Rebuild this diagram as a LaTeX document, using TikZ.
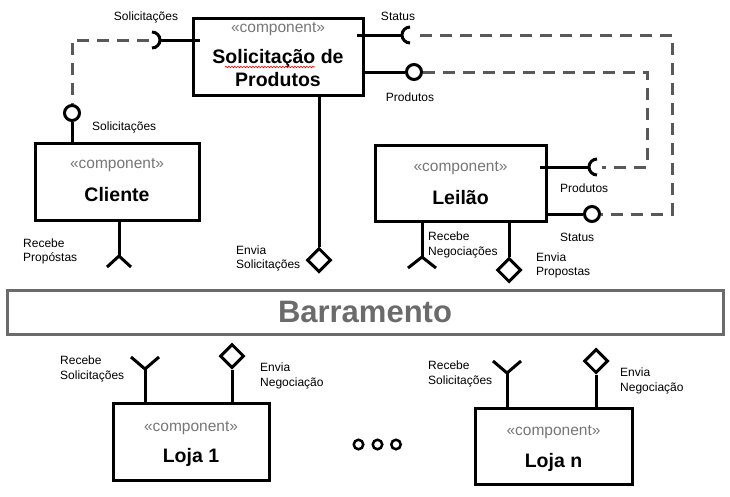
\documentclass[tikz,border=0pt]{standalone}
\usepackage{fontspec}
\setmainfont{Liberation Sans}
\usetikzlibrary{shapes.geometric,decorations.pathmorphing}
\definecolor{linkgray}{HTML}{595959}
\definecolor{busgray}{HTML}{6B6B6B}
\definecolor{stereogray}{HTML}{767676}
\begin{document}
\begin{tikzpicture}[x=1pt,y=-1pt,
  comp/.style={draw, line width=3pt, rectangle, inner sep=0pt},
  wire/.style={line width=3pt},
  link/.style={line width=3pt, draw=linkgray, dash pattern=on 12pt off 8pt},
  ball/.style={circle, draw, line width=3pt, minimum size=15pt, inner sep=0pt, fill=white},
  port/.style={diamond, draw, line width=3pt, minimum width=24pt, minimum height=24pt, inner sep=0pt, aspect=1, fill=white},
  dot/.style={circle, draw, line width=2.5pt, minimum size=9.5pt, inner sep=0pt},
  lbl/.style={font=\fontsize{12}{14.5}\selectfont, align=left, inner sep=0pt},
  stereo/.style={font=\fontsize{15.5}{18}\selectfont, text=stereogray, inner sep=0pt},
  title/.style={font=\fontsize{19.5}{23}\selectfont\bfseries, inner sep=0pt, align=center},
]
\useasboundingbox (0,0) rectangle (730,496);

% ---- components ----
\node[comp, minimum width=170pt, minimum height=77pt] (sol) at (278,56.5) {};
\node[stereo] (solS) at (278,29) {«component»};
\node[title] (solT) at (278,68.5) {Solicitação de\\Produtos};
\draw[red, line width=0.6pt, decorate, decoration={snake, amplitude=0.8pt, segment length=3pt}] (225,67) -- (315,67);

\node[comp, minimum width=164pt, minimum height=77pt] (cli) at (117,181.5) {};
\node[stereo] (cliS) at (117,165) {«component»};
\node[title] (cliT) at (117,195) {Cliente};

\node[comp, minimum width=171pt, minimum height=76pt] (lei) at (460.5,183) {};
\node[stereo] (leiS) at (460.5,168) {«component»};
\node[title] (leiT) at (460.5,198) {Leilão};

\node[draw=busgray, line width=3pt, minimum width=716pt, minimum height=44pt, inner sep=0pt,
      text=busgray, font=\fontsize{31}{36}\selectfont\bfseries] (bus) at (365,312) {Barramento};

\node[comp, minimum width=156pt, minimum height=77pt] (l1) at (191,441.5) {};
\node[stereo] (l1S) at (191,428) {«component»};
\node[title] (l1T) at (191,457) {Loja 1};

\node[comp, minimum width=157pt, minimum height=76pt] (ln) at (553.5,446) {};
\node[stereo] (lnS) at (553.5,432) {«component»};
\node[title] (lnT) at (553.5,462) {Loja n};

\node[dot] (d1) at (358.5,444.5) {};
\node[dot] (d2) at (377.5,444.5) {};
\node[dot] (d3) at (396,444.5) {};

% ---- sockets (half circles, radius 8) ----
\coordinate (sqL) at (152,40);
\coordinate (sqS) at (410,35);
\coordinate (sqP) at (597,167);
\draw[wire] ([xshift=8pt]sqL) -- ([xshift=8pt]sqL -| sol.west);
\draw[wire] (sqL) ++(0,-8) arc[start angle=-90, end angle=90, radius=8];
\draw[wire] ([xshift=-8pt]sqS) -- ([xshift=-8pt]sqS -| sol.east);
\draw[wire] (sqS) ++(0,8) arc[start angle=90, end angle=270, radius=8];
\draw[wire] ([xshift=-8pt]sqP) -- ([xshift=-8pt]sqP -| lei.east);
\draw[wire] (sqP) ++(0,8) arc[start angle=90, end angle=270, radius=8];

% ---- balls ----
\node[ball] (bCli) at (72,113) {};
\node[ball] (bProd) at (414,72) {};
\node[ball] (bStat) at (592,214) {};
\draw[wire] (bCli) -- (bCli |- cli.north);
\draw[wire] (bProd) -- (bProd -| sol.east);
\draw[wire] (bStat) -- (bStat -| lei.east);

% ---- assembly links ----
\draw[link] ([xshift=-3pt]sqL) -| (bCli);
\draw[link] ([xshift=10pt]sqS) -| ([xshift=80pt]bStat.center) -- (bStat);
\draw[link] (bProd) -| ([xshift=50pt]sqP) -- ([xshift=5pt]sqP);

% ---- bus receptacles ----
\coordinate (rCli) at (119,256);
\draw[wire] (rCli |- cli.south) -- (rCli);
\draw[wire] (rCli) ++(-12,11) -- (rCli) -- ++(12,11);
\coordinate (rLei) at (422,257);
\draw[wire] (rLei |- lei.south) -- (rLei);
\draw[wire] (rLei) ++(-14,11) -- (rLei) -- ++(14,11);
\coordinate (rL1) at (145,369);
\draw[wire] (rL1 |- l1.north) -- (rL1);
\draw[wire] (rL1) ++(-14,-12) -- (rL1) -- ++(14,-12);
\coordinate (rLn) at (507,373);
\draw[wire] (rLn |- ln.north) -- (rLn);
\draw[wire] (rLn) ++(-14,-12) -- (rLn) -- ++(14,-12);

% ---- bus ports ----
\node[port] (dSol) at (319,260) {};
\node[port] (dLei) at (509,270) {};
\node[port] (dL1) at (232,356) {};
\node[port] (dLn) at (596,361) {};
\draw[wire] (dSol) -- (dSol |- sol.south);
\draw[wire] (dLei) -- (dLei |- lei.south);
\draw[wire] (dL1) -- (dL1 |- l1.north);
\draw[wire] (dLn) -- (dLn |- ln.north);

% ---- labels ----
\node[lbl] (tSolA) at (146,17) {Solicitações};
\node[lbl, anchor=west] (tSolB) at (92,127) {Solicitações};
\node[lbl] (tStatA) at (398,16) {Status};
\node[lbl] (tProdA) at (410,97) {Produtos};
\node[lbl, anchor=west] (tProdB) at (560,188) {Produtos};
\node[lbl, anchor=west] (tStatB) at (560,237) {Status};
\node[lbl, anchor=west] (tRecCli) at (23,251.5) {Recebe\\Propóstas};
\node[lbl, anchor=west] (tEnvSol) at (236,258.5) {Envia\\Solicitações};
\node[lbl, anchor=west] (tRecLei) at (428,245) {Recebe\\Negociações};
\node[lbl, anchor=west] (tEnvLei) at (536,265.5) {Envia\\Propostas};
\node[lbl, anchor=west] (tRecL1) at (60,369) {Recebe\\Solicitações};
\node[lbl, anchor=west] (tEnvL1) at (260,376) {Envia\\Negociação};
\node[lbl, anchor=west] (tRecLn) at (428,374) {Recebe\\Solicitações};
\node[lbl, anchor=west] (tEnvLn) at (620,381) {Envia\\Negociação};
\end{tikzpicture}
\end{document}
